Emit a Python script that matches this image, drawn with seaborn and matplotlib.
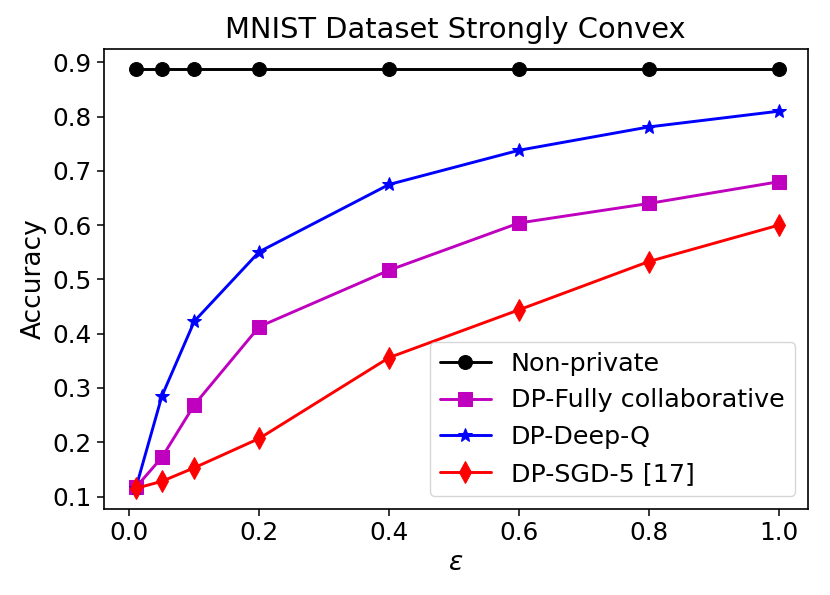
import matplotlib
matplotlib.use("Agg")
import matplotlib.pyplot as plt
import pandas as pd
import seaborn as sns

# ── Data ────────────────────────────────────────────────────────────────
epsilon = [0.01, 0.05, 0.1, 0.2, 0.4, 0.6, 0.8, 1.0]
non_private = [0.887, 0.887, 0.887, 0.887, 0.887, 0.887, 0.887, 0.887]
dp_fully_collab = [0.117, 0.172, 0.269, 0.413, 0.517, 0.604, 0.640, 0.680]
dp_deep_q = [0.116, 0.285, 0.423, 0.551, 0.675, 0.738, 0.781, 0.810]
dp_sgd_5 = [0.115, 0.128, 0.153, 0.207, 0.356, 0.444, 0.533, 0.600]

series_names = ["Non-private", "DP-Fully collaborative", "DP-Deep-Q", "DP-SGD-5 [17]"]
series_values = [non_private, dp_fully_collab, dp_deep_q, dp_sgd_5]
series_colors = ["k", "m", "b", "r"]
series_markers = ["o", "s", "*", "d"]
series_msize = [10, 10, 10, 11]

x_ticks = [0.0, 0.2, 0.4, 0.6, 0.8, 1.0]
y_ticks = [0.1, 0.2, 0.3, 0.4, 0.5, 0.6, 0.7, 0.8, 0.9]

# ── Style ───────────────────────────────────────────────────────────────
sns.set_style("ticks", {
    "text.color": "black",
    "axes.labelcolor": "black",
    "axes.edgecolor": "black",
    "xtick.color": "black",
    "ytick.color": "black",
})
plt.rcParams["font.family"] = ["DejaVu Sans"]

fig = plt.figure(figsize=(8.3, 5.95), dpi=100)
ax = fig.add_axes([0.125, 0.145, 0.848, 0.773])

for name, vals, col, mk, ms in zip(series_names, series_values, series_colors,
                                    series_markers, series_msize):
    df = pd.DataFrame({"epsilon": epsilon, "accuracy": vals})
    sns.lineplot(data=df, x="epsilon", y="accuracy", ax=ax, color=col,
                 marker=mk, markersize=ms, markeredgecolor=col, linewidth=2.1,
                 label=name)

for spine in ax.spines.values():
    spine.set_linewidth(1.2)

ax.set_xticks(x_ticks)
ax.set_yticks(y_ticks)
ax.set_xlim(-0.0395, 1.0445)
ax.set_ylim(0.0775, 0.925)
ax.tick_params(labelsize=17.8, length=5, width=1.1)
ax.set_xlabel(r"$\varepsilon$", fontsize=19)
ax.set_ylabel("Accuracy", fontsize=19)
ax.set_title("MNIST Dataset Strongly Convex", fontsize=20.8, pad=8)
ax.legend(loc="lower right", fontsize=18.3, framealpha=0.8, edgecolor="0.8")

fig.savefig("out.png", dpi=100)
